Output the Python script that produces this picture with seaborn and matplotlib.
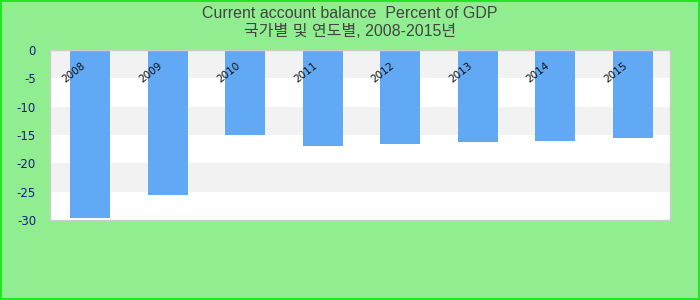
import matplotlib
matplotlib.use("Agg")
import matplotlib.pyplot as plt
import matplotlib.transforms as mtransforms
import seaborn as sns
import pandas as pd

# Current account balance, percent of GDP
years = ["2008", "2009", "2010", "2011", "2012", "2013", "2014", "2015"]
balance = [-29.6, -25.6, -15.0, -16.9, -16.6, -16.2, -16.0, -15.5]
y_ticks = [0, -5, -10, -15, -20, -25, -30]

title_line1 = "Current account balance  Percent of GDP"
title_line2 = "국가별 및 연도별, 2008-2015년"

df = pd.DataFrame({"year": years, "balance": balance})

sns.set_theme(style="white")
plt.rcParams["font.family"] = ["DejaVu Sans", "Noto Sans CJK KR"]

fig = plt.figure(figsize=(7, 3), dpi=100, facecolor="#90ee90",
                 edgecolor="#22e622", linewidth=1.6)
ax = fig.add_axes([50 / 700, 80 / 300, 620 / 700, 170 / 300])
ax.set_facecolor("white")

# alternating horizontal bands
for i, (hi, lo) in enumerate(zip(y_ticks[:-1], y_ticks[1:])):
    if i % 2 == 0:
        ax.axhspan(lo, hi, color="#f2f2f2", zorder=0, lw=0)

sns.barplot(data=df, x="year", y="balance", color="#62a9f5", width=0.52,
            saturation=1, linewidth=0, ax=ax, zorder=2)

ax.set_ylim(-30, 0)
ax.set_xlim(-0.52, 7.48)
ax.set_yticks(y_ticks)
ax.set_yticklabels([str(v) for v in y_ticks], color="#1a1a8c", fontsize=8.5)
ax.tick_params(axis="y", length=0, pad=10)
ax.set_xticks([])
ax.set_xlabel("")
ax.set_ylabel("")

for s in ax.spines.values():
    s.set_color("#cccccc")
    s.set_linewidth(1.0)

# year labels drawn inside the top of the plot
trans = mtransforms.blended_transform_factory(ax.transData, ax.transAxes)
for i, yr in enumerate(years):
    ax.text(i - 0.22, 0.87, yr, transform=trans, rotation=38,
            rotation_mode="anchor", ha="center", va="center",
            fontsize=7.5, color="#111111", zorder=3)

fig.text(0.5, 1 - 13 / 300, title_line1, ha="center", va="center",
         fontsize=11.5, color="#444444",
         family=["Liberation Sans", "Noto Sans CJK KR"])
fig.text(0.5, 1 - 32 / 300, title_line2, ha="center", va="center",
         fontsize=11.5, color="#444444",
         family=["Liberation Sans", "Noto Sans CJK KR"])

fig.savefig("out.png", dpi=100, facecolor=fig.get_facecolor(),
            edgecolor=fig.get_edgecolor())
